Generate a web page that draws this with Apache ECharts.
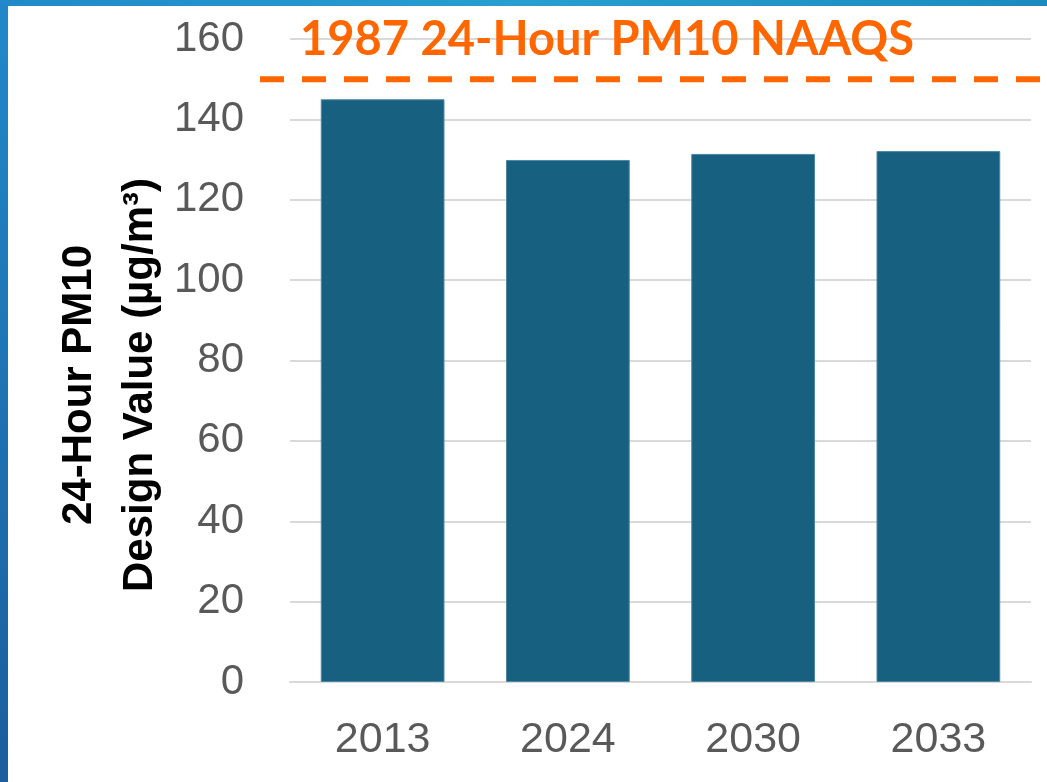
<!DOCTYPE html>
<html>
<head>
<meta charset="utf-8">
<script src="https://cdn.jsdelivr.net/npm/echarts@6/dist/echarts.min.js"></script>
<style>
html,body{margin:0;padding:0;background:#fff;}
#chart{width:1047px;height:782px;}
</style>
</head>
<body>
<div id="chart"></div>
<script>
const categories = ['2013', '2024', '2030', '2033'];
const designValues = [145, 129.9, 131.4, 132.1];
const naaqsValue = 150;
const naaqsLabel = '1987 24-Hour PM10 NAAQS';
const yTicks = { min: 0, max: 160, interval: 20 };
const yTitle = '24-Hour PM10\nDesign Value (µg/m³)';

const chart = echarts.init(document.getElementById('chart'));
const gridTop = 39, gridBottom = 100;
chart.setOption({
  animation: false,
  backgroundColor: '#ffffff',
  grid: [
    { left: 290, right: 16, top: gridTop, bottom: gridBottom, containLabel: false },
    { left: 260, right: 0, top: gridTop, bottom: gridBottom, containLabel: false }
  ],
  xAxis: [
    {
      type: 'category', data: categories, gridIndex: 0,
      axisLine: { show: true, lineStyle: { color: '#d9d9d9', width: 2 } },
      axisTick: { show: false },
      axisLabel: { color: '#595959', fontFamily: 'Liberation Sans', fontSize: 43, margin: 37 }
    },
    { type: 'value', gridIndex: 1, min: 0, max: 1, show: false }
  ],
  yAxis: [
    {
      type: 'value', gridIndex: 0, min: yTicks.min, max: yTicks.max, interval: yTicks.interval,
      axisLine: { show: false }, axisTick: { show: false },
      splitLine: { lineStyle: { color: '#d9d9d9', width: 2 } },
      axisLabel: { color: '#595959', fontFamily: 'Liberation Sans', fontSize: 42, margin: 46 }
    },
    { type: 'value', gridIndex: 1, min: yTicks.min, max: yTicks.max, show: false }
  ],
  series: [
    {
      type: 'bar', data: designValues, xAxisIndex: 0, yAxisIndex: 0,
      barCategoryGap: '33.2%',
      itemStyle: { color: '#17607f', borderColor: '#4d87a3', borderWidth: 1 }
    },
    {
      type: 'line', xAxisIndex: 1, yAxisIndex: 1, z: 5,
      data: [[0, naaqsValue], [1, naaqsValue]],
      symbol: 'none',
      lineStyle: { color: '#ff6600', width: 6, type: [24, 18], cap: 'butt' }
    }
  ],
  graphic: [
    {
      type: 'rect', left: 0, top: 0, z: 100,
      shape: { width: 8, height: 782 },
      style: { fill: new echarts.graphic.LinearGradient(0, 0, 0, 1, [
        { offset: 0, color: '#2189c9' }, { offset: 1, color: '#1c5d9d' }]) }
    },
    {
      type: 'rect', left: 0, top: 0, z: 100,
      shape: { width: 1047, height: 6 },
      style: { fill: new echarts.graphic.LinearGradient(0, 0, 1, 0, [
        { offset: 0, color: '#2189c9' }, { offset: 0.5, color: '#279fcf' }, { offset: 1, color: '#1b8bbd' }]) }
    },
    {
      type: 'text', x: 607, y: 40, z: 50,
      style: {
        text: naaqsLabel, fill: '#ff6600', fontFamily: 'Lato', fontWeight: 'bold', fontSize: 47,
        align: 'center', verticalAlign: 'middle'
      }
    },
    {
      type: 'text', x: 110, y: 385, rotation: Math.PI / 2, z: 50,
      style: {
        text: yTitle, fill: '#000000', fontFamily: 'Liberation Sans', fontWeight: 'bold', fontSize: 42,
        lineHeight: 61, align: 'center', verticalAlign: 'middle'
      }
    }
  ]
});
</script>
</body>
</html>
